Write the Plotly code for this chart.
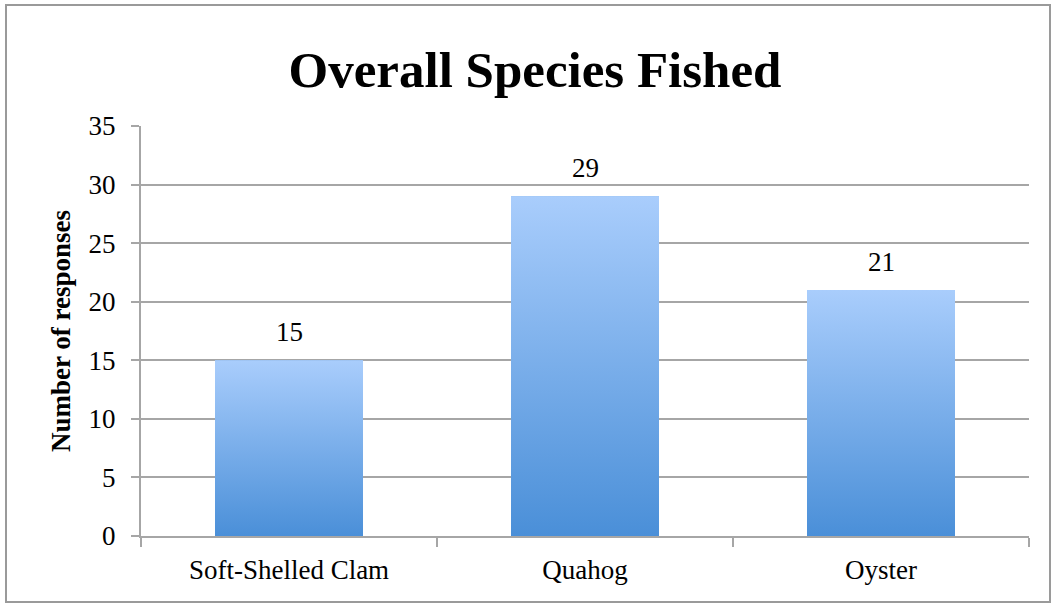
import plotly.graph_objects as go

# Survey data
species = ["Soft-Shelled Clam", "Quahog", "Oyster"]
responses = [15, 29, 21]
y_ticks = [0, 5, 10, 15, 20, 25, 30, 35]

TITLE = "Overall Species Fished"
Y_TITLE = "Number of responses"

W, H = 1057, 605
ML, MR, MT, MB = 141, 28, 126, 69
FONT = "Liberation Serif"
GRID = "#a6a6a6"
BAR_W = 0.5
TOP_C, BOT_C = "#a9cdfc", "#4a8fd8"

fig = go.Figure()

# Bars on the category axis (carry the shape; gradient drawn on top)
fig.add_trace(go.Bar(
    x=species, y=responses, width=BAR_W,
    marker=dict(color="#78aee9", line=dict(width=0)),
    hoverinfo="x+y", showlegend=False,
))

# Gradient fill for each bar, on an overlaid linear axis spanning the categories
for i, v in enumerate(responses):
    fig.add_trace(go.Scatter(
        x=[i - BAR_W / 2, i + BAR_W / 2], y=[v, v],
        xaxis="x2", mode="none", fill="tozeroy",
        fillgradient=dict(type="vertical",
                          colorscale=[[0, BOT_C], [1, TOP_C]]),
        hoverinfo="skip", showlegend=False,
    ))

# Value labels above bars
for s, v in zip(species, responses):
    fig.add_annotation(x=s, y=v, text=str(v), showarrow=False,
                       yanchor="bottom", yshift=11,
                       font=dict(family=FONT, size=27, color="black"))

pw, ph = W - ML - MR, H - MT - MB
def px_x(p):
    return (p - ML) / pw
def px_y(p):
    return (H - MB - p) / ph

# Outer chart border
fig.add_shape(type="rect", xref="paper", yref="paper",
              x0=px_x(6), x1=px_x(1050), y0=px_y(602), y1=px_y(5),
              line=dict(color="#9a9a9a", width=2), layer="below")

fig.update_layout(
    width=W, height=H,
    margin=dict(l=ML, r=MR, t=MT, b=MB),
    paper_bgcolor="white", plot_bgcolor="white",
    title=dict(text=f"<b>{TITLE}</b>", xref="container", x=535 / W,
               xanchor="center", y=1 - 69 / H, yanchor="middle",
               font=dict(family=FONT, size=51, color="black")),
    font=dict(family=FONT, size=27, color="black"),
    xaxis=dict(
        type="category", tickson="boundaries", ticks="outside",
        ticklen=9, tickcolor=GRID, tickwidth=2,
        showline=True, linecolor=GRID, linewidth=2,
        showgrid=False, range=[-0.5, 2.5], ticklabelstandoff=9,
        tickfont=dict(family=FONT, size=27),
    ),
    xaxis2=dict(overlaying="x", range=[-0.5, 2.5], visible=False),
    yaxis=dict(
        range=[0, 35], tickvals=y_ticks, ticks="outside",
        ticklen=8, tickcolor=GRID, tickwidth=2,
        showline=True, linecolor=GRID, linewidth=2,
        showgrid=True, gridcolor=GRID, gridwidth=2,
        zeroline=False, ticklabelstandoff=10,
        title=dict(text=f"<b>{Y_TITLE}</b>", standoff=10,
                   font=dict(family=FONT, size=27)),
        tickfont=dict(family=FONT, size=27),
    ),
)

fig.write_html("out.html")
